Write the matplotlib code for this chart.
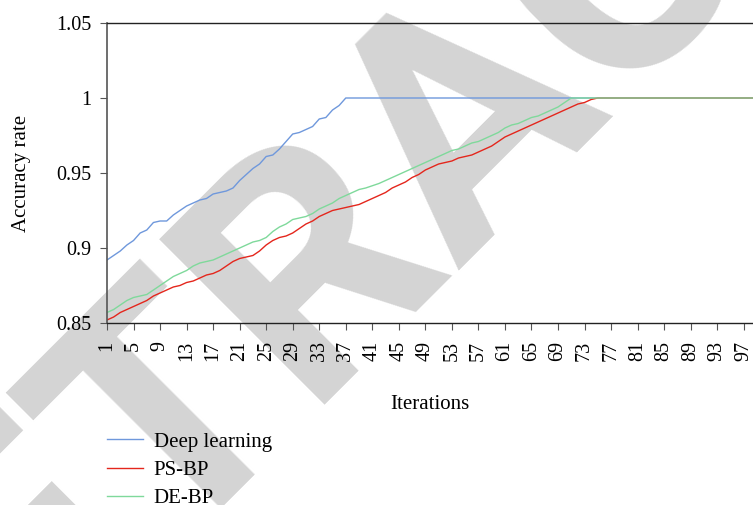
import matplotlib
matplotlib.use("Agg")
import matplotlib.pyplot as plt
from matplotlib.lines import Line2D

# iteracoes 1..100 (o grafico original esta cortado perto de 98)
iteracoes = list(range(1, 101))

deep_learning = [0.892, 0.895, 0.898, 0.902, 0.905, 0.910, 0.912, 0.917, 0.918, 0.918,
                 0.922, 0.925, 0.928, 0.930, 0.932, 0.933, 0.936, 0.937, 0.938, 0.940,
                 0.945, 0.949, 0.953, 0.956, 0.961, 0.962, 0.966, 0.971, 0.976, 0.977,
                 0.979, 0.981, 0.986, 0.987, 0.992, 0.995, 1.000] + [1.0] * 63

ps_bp = [0.852, 0.854, 0.857, 0.859, 0.861, 0.863, 0.865, 0.868, 0.870, 0.872,
         0.874, 0.875, 0.877, 0.878, 0.880, 0.882, 0.883, 0.885, 0.888, 0.891,
         0.893, 0.894, 0.895, 0.898, 0.902, 0.905, 0.907, 0.908, 0.910, 0.913,
         0.916, 0.918, 0.921, 0.923, 0.925, 0.926, 0.927, 0.928, 0.929, 0.931,
         0.933, 0.935, 0.937, 0.940, 0.942, 0.944, 0.947, 0.949, 0.952, 0.954,
         0.956, 0.957, 0.958, 0.960, 0.961, 0.962, 0.964, 0.966, 0.968, 0.971,
         0.974, 0.976, 0.978, 0.980, 0.982, 0.984, 0.986, 0.988, 0.990, 0.992,
         0.994, 0.996, 0.997, 0.999, 1.000] + [1.0] * 25

de_bp = [0.857, 0.859, 0.862, 0.865, 0.867, 0.868, 0.869, 0.872, 0.875, 0.878,
         0.881, 0.883, 0.885, 0.888, 0.890, 0.891, 0.892, 0.894, 0.896, 0.898,
         0.900, 0.902, 0.904, 0.905, 0.907, 0.911, 0.914, 0.916, 0.919, 0.920,
         0.921, 0.923, 0.926, 0.928, 0.930, 0.933, 0.935, 0.937, 0.939, 0.940,
         0.9415, 0.943, 0.945, 0.947, 0.949, 0.951, 0.953, 0.955, 0.957, 0.959,
         0.961, 0.963, 0.965, 0.966, 0.968, 0.970, 0.971, 0.973, 0.975, 0.977,
         0.980, 0.982, 0.983, 0.985, 0.987, 0.988, 0.990, 0.992, 0.994, 0.997,
         1.000] + [1.0] * 29

series_nomes = ["Deep learning", "PS-BP", "DE-BP"]
cores = ["#6f98dc", "#e4261c", "#7fd99b"]

y_ticks = [0.85, 0.9, 0.95, 1.0, 1.05]
y_labels = ["0.85", "0.9", "0.95", "1", "1.05"]
x_ticks = list(range(1, 98, 4))

plt.rcParams["font.family"] = ["Liberation Serif", "DejaVu Serif"]

fig = plt.figure(figsize=(7.53, 5.05), dpi=100)
ax = fig.add_axes([107 / 753, 1 - 323 / 505, 1 - 107 / 753, 300 / 505])
ax.set_facecolor("none")

# marca d'agua RETRACTED atras de tudo (45 graus)
fig.text(534 / 753, 1 - 175 / 505, "RETRACTED", rotation=45, rotation_mode="anchor",
         ha="center", va="baseline", fontsize=236, fontweight="bold",
         family=["Roboto", "Liberation Sans"], color="#d4d4d4", zorder=-5)

for vals, cor in zip([deep_learning, ps_bp, de_bp], cores):
    ax.plot(iteracoes, vals, color=cor, linewidth=1.0)

ax.set_xlim(1, 98.4)
ax.set_ylim(0.85, 1.05)
ax.set_yticks(y_ticks)
ax.set_yticklabels(y_labels)
ax.set_xticks(x_ticks)
ax.set_xticklabels([str(t) for t in x_ticks], rotation=90)

ax.spines["right"].set_visible(False)
ax.spines["top"].set_color("#222222")
ax.spines["top"].set_linewidth(1.0)
ax.spines["left"].set_color("#555555")
ax.spines["left"].set_linewidth(1.2)
ax.spines["bottom"].set_color("#222222")
ax.spines["bottom"].set_linewidth(1.0)
ax.tick_params(axis="both", labelsize=14.5, length=5, color="#555555", pad=6)
ax.tick_params(axis="x", pad=8)

ax.set_ylabel("Accuracy rate", fontsize=15, labelpad=18)
ax.set_xlabel("Iterations", fontsize=15, labelpad=24)

handles = [Line2D([], [], color=c, linewidth=1.0) for c in cores]
fig.legend(handles, series_nomes, loc="upper left", frameon=False,
           bbox_to_anchor=(107 / 753, 1 - 432 / 505), borderpad=0, borderaxespad=0,
           fontsize=15, handlelength=1.75, handletextpad=0.5, labelspacing=0.42)

fig.savefig("out.png", dpi=100)
